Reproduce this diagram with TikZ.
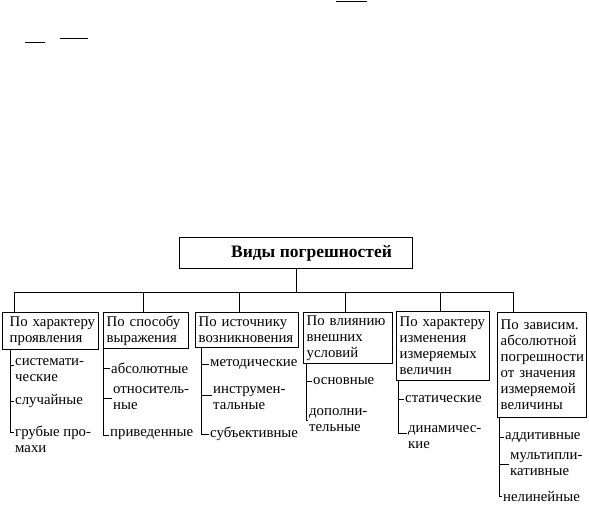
\documentclass[tikz,border=0pt]{standalone}
\usepackage{fontspec}
\setmainfont{Liberation Serif}
\begin{document}
\begin{tikzpicture}[x=1pt,y=-1pt,
  conn/.style={line width=0.8pt},
  box/.style={draw, line width=1.4pt, anchor=north west, align=left, inner xsep=3pt, inner ysep=0pt,
     font=\fontsize{14.8}{16}\selectfont},
  leaf/.style={anchor=west, align=left, inner xsep=1.5pt, inner ysep=0pt, font=\fontsize{14.8}{16}\selectfont}]
\useasboundingbox (0,0) rectangle (589,505);
% stray marks at the top
\draw[line width=0.8pt] (25,42) -- (45,42);
\draw[line width=0.8pt] (60,38) -- (88,38);
\draw[line width=0.8pt] (336,1) -- (367,1);
% title
\node[draw, line width=1pt, anchor=north west, minimum width=233pt, minimum height=31pt, inner sep=0pt,
  font=\bfseries\fontsize{17.5}{19}\selectfont] (title) at (179,237) {\hspace*{31pt}Виды погрешностей};
% boxes
\node[box, text width=89.6pt, minimum height=37pt] (b1) at (2,312) {\hspace*{4pt}По характеру\\\hspace*{4pt}проявления};
\node[box, text width=78.6pt, minimum height=36pt] (b2) at (103,312) {По способу\\выражения};
\node[box, text width=96.6pt, minimum height=35pt] (b3) at (195,312) {По источнику\\возникновения};
\node[box, text width=82.6pt, minimum height=51pt] (b4) at (303,312) {По влиянию\\внешних\\условий};
\node[box, text width=86.6pt, minimum height=69pt] (b5) at (396,311) {По характеру\\изменения\\измеряемых\\величин};
\node[box, text width=82.6pt, minimum height=105pt] (b6) at (497,312) {По зависим.\\абсолютной\\погрешности\\от значения\\измеряемой\\величины};
% bus
\coordinate (busL) at (14,292);
\coordinate (busR) at (513,292);
\coordinate (d2) at (143,292);
\coordinate (d3) at (239,292);
\coordinate (d4) at (345,292);
\coordinate (d5) at (440,292);
\draw[conn] (title.south) -- (title.south |- busL);
\draw[conn] (busL) -- (busR);
\draw[conn] (busL) -- (busL |- b1.north);
\draw[conn] (d2) -- (d2 |- b2.north);
\draw[conn] (d3) -- (d3 |- b3.north);
\draw[conn] (d4) -- (d4 |- b4.north);
\draw[conn] (d5) -- (d5 |- b5.north);
\draw[conn] (busR) -- (busR |- b6.north);
% leaves
\node[leaf] (l11) at (13.5,370) {системати-\\ческие};
\node[leaf] (l12) at (13.5,401) {случайные};
\node[leaf] (l13) at (13.5,439.5) {грубые про-\\махи};
\node[leaf] (l21) at (109.5,368) {абсолютные};
\node[leaf] (l22) at (111.5,398) {относитель-\\ные};
\node[leaf] (l23) at (108.5,435) {приведенные};
\node[leaf] (l31) at (208.5,364) {методические};
\node[leaf] (l32) at (211.5,398) {инструмен-\\тальные};
\node[leaf] (l33) at (208.5,434) {субъективные};
\node[leaf] (l41) at (311.5,381) {основные};
\node[leaf] (l42) at (307.5,420) {дополни-\\тельные};
\node[leaf] (l51) at (403.5,399) {статические};
\node[leaf] (l52) at (406.5,437.5) {динамичес-\\кие};
\node[leaf] (l61) at (503.5,437) {аддитивные};
\node[leaf] (l62) at (508.5,464) {мультипли-\\кативные};
\node[leaf] (l63) at (501.5,496.5) {нелинейные};
% vertical lines
\coordinate (v1) at (10,0);
\coordinate (v2) at (103,0);
\coordinate (v3) at (201,0);
\coordinate (v4) at (306,0);
\coordinate (v5) at (398,0);
\coordinate (v6) at (499,0);
\coordinate (t11) at ([yshift=5pt]l11.west);
\coordinate (t13) at ([yshift=7.5pt]l13.west);
\coordinate (t32) at ([yshift=3pt]l32.west);
\coordinate (t52) at ([yshift=4.5pt]l52.west);
% group 1
\draw[conn] (v1 |- b1.south) |- (t13);
\draw[conn] (v1 |- t11) -- (t11);
\draw[conn] (v1 |- l12.west) -- (l12.west);
% group 2
\draw[conn] (v2 |- b2.south) |- (l23.west);
\draw[conn] (v2 |- l21.west) -- (l21.west);
\draw[conn] (v2 |- l22.west) -- (l22.west);
% group 3
\draw[conn] (v3 |- b3.south) |- (l33.west);
\draw[conn] (v3 |- l31.west) -- (l31.west);
\draw[conn] (v3 |- t32) -- (t32);
% group 4
\draw[conn] (v4 |- b4.south) |- (l42.west);
\draw[conn] (v4 |- l41.west) -- (l41.west);
% group 5
\draw[conn] (v5 |- b5.south) |- (t52);
\draw[conn] (v5 |- l51.west) -- (l51.west);
% group 6
\draw[conn] (v6 |- b6.south) |- (l63.west);
\draw[conn] (v6 |- l61.west) -- (l61.west);
\draw[conn] (v6 |- l62.west) -- (l62.west);
\end{tikzpicture}
\end{document}
